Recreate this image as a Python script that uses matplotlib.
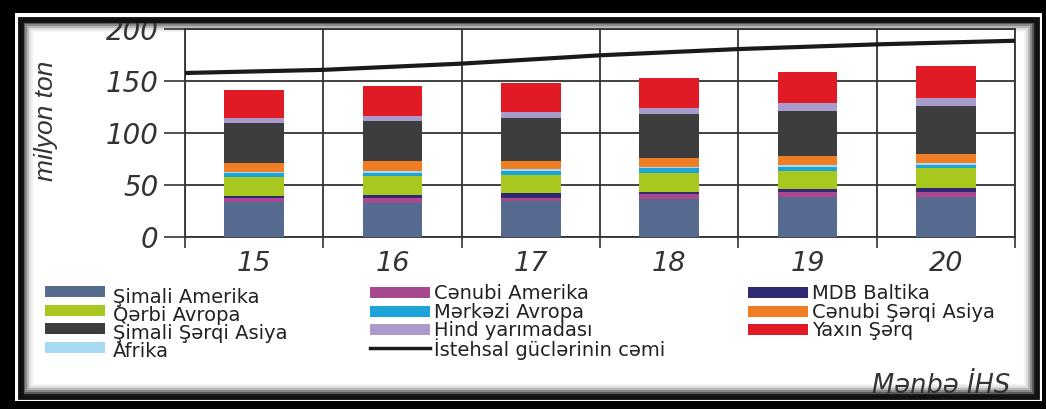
import numpy as np
import matplotlib
matplotlib.use("Agg")
import matplotlib.pyplot as plt
from matplotlib.patches import Rectangle
from matplotlib.lines import Line2D

# ---------------- data ----------------
years = ['15', '16', '17', '18', '19', '20']
simali_amerika = [34.2, 33.3, 35.2, 36.5, 38.5, 39.0]
cenubi_amerika = [3.3, 4.2, 2.9, 4.8, 4.8, 4.8]
mdb_baltika = [2.5, 3.2, 4.2, 2.5, 2.9, 3.9]
qerbi_avropa = [18.3, 18.3, 17.6, 18.3, 17.6, 18.6]
merkezi_avropa = [3.2, 3.0, 3.9, 4.2, 4.1, 3.2]
afrika = [1.3, 1.5, 1.6, 1.0, 1.6, 1.5]
cenubi_serqi_asiya = [9.0, 9.5, 8.3, 8.7, 8.7, 9.3]
simali_serqi_asiya = [38.0, 38.6, 40.7, 42.3, 43.5, 46.2]
hind_yarimadasi = [4.8, 5.2, 5.8, 6.3, 7.1, 7.0]
yaxin_serq = [26.6, 28.5, 28.5, 28.9, 30.4, 31.0]
# total production capacity, read at the year boundaries
capacity = [158, 161, 167, 175, 181, 185.5, 189]
yticks = [0, 50, 100, 150, 200]

series = [
    ("Şimali Amerika", simali_amerika, "#566a8f"),
    ("Cənubi Amerika", cenubi_amerika, "#a8488f"),
    ("MDB Baltika", mdb_baltika, "#2f2a73"),
    ("Qərbi Avropa", qerbi_avropa, "#a9c81f"),
    ("Mərkəzi Avropa", merkezi_avropa, "#1da4d6"),
    ("Afrika", afrika, "#a7d9f2"),
    ("Cənubi Şərqi Asiya", cenubi_serqi_asiya, "#ee7d23"),
    ("Şimali Şərqi Asiya", simali_serqi_asiya, "#3d3d3d"),
    ("Hind yarımadası", hind_yarimadasi, "#a99ccd"),
    ("Yaxın Şərq", yaxin_serq, "#e11b25"),
]
colors = {name: c for name, _, c in series}

W, H = 1046, 409
FONT = "DejaVu Sans"
FONT2 = "Liberation Sans"
TXT = "#333333"

fig = plt.figure(figsize=(W / 100, H / 100), dpi=100)
fig.patch.set_facecolor("black")

def fx(x):
    return x / W

def fy(y):
    return 1 - y / H

def frect(x0, y0, x1, y1, **kw):
    r = Rectangle((fx(x0), fy(y1)), (x1 - x0) / W, (y1 - y0) / H,
                  transform=fig.transFigure, **kw)
    fig.patches.append(r)
    return r

# white page with frame
frect(15, 13, 1042, 401, facecolor="white", edgecolor="none", zorder=-10)
for i, c in enumerate(["#555555", "#888888", "#b5b5b5", "#dcdcdc", "#f0f0f0"]):
    d = 3.5 + i * 2.0
    frect(20.5 + d, 19.5 + d, 1036.5 - d, 396.5 - d,
          facecolor="none", edgecolor=c, linewidth=1.6, zorder=-5)
frect(20.5, 19.5, 1036.5, 396.5, facecolor="none", edgecolor="#111111",
      linewidth=4.2, zorder=10)

# ---------------- axes ----------------
ax = fig.add_axes([fx(185), fy(237.3), (1015 - 185) / W, (237.3 - 29.3) / H])
ax.set_facecolor("white")
x = np.arange(len(years))
bottom = np.zeros(len(years))
for name, vals, c in series:
    ax.bar(x, vals, width=0.43, bottom=bottom, color=c, edgecolor="none", zorder=3)
    bottom += np.array(vals)

xb = np.arange(len(capacity)) - 0.5
ax.plot(xb, capacity, color="#1a1a1a", linewidth=3.0, solid_capstyle="butt", zorder=4)

ax.set_xlim(-0.5, len(years) - 0.5)
ax.set_ylim(0, 200)
ax.set_yticks(yticks)
ax.set_yticklabels([str(v) for v in yticks], fontsize=20, style="italic",
                   family=FONT, color=TXT)
ax.set_xticks(xb)
ax.set_xticklabels([])
ax.set_xticks(x, minor=True)
ax.set_xticklabels(years, minor=True, fontsize=19.5, style="italic",
                   family=FONT, color=TXT)
ax.tick_params(axis="y", length=15, width=1.2, color="#333333", pad=4)
ax.tick_params(axis="x", which="major", length=8, width=1.2, color="#333333")
ax.tick_params(axis="x", which="minor", length=0, pad=10)
ax.grid(True, which="major", color="#333333", linewidth=1.3, zorder=1)
ax.set_axisbelow(True)
for s in ["top", "right", "left", "bottom"]:
    ax.spines[s].set_color("#333333")
    ax.spines[s].set_linewidth(1.3)
ax.set_ylabel("milyon ton", fontsize=19, style="italic", family=FONT2, color=TXT)
ax.yaxis.set_label_coords(-(185 - 58) / (1015 - 185), 0.56)

# ---------------- legend (manual, 3 columns) ----------------
legend_cols = [
    (45, 113, ["Şimali Amerika", "Qərbi Avropa", "Şimali Şərqi Asiya", "Afrika"],
     [291.5, 310, 328.5, 347], [303, 321, 339, 357]),
    (370, 434, ["Cənubi Amerika", "Mərkəzi Avropa", "Hind yarımadası",
                "İstehsal güclərinin cəmi"],
     [292, 311, 329.5, 348], [299, 318, 336, 356]),
    (748, 812, ["MDB Baltika", "Cənubi Şərqi Asiya", "Yaxın Şərq"],
     [292, 311, 329.5], [299, 318, 336]),
]
for px, tx, names, pys, bys in legend_cols:
    for name, py, by in zip(names, pys, bys):
        if name in colors:
            frect(px, py - 5.5, px + 60, py + 5.5, facecolor=colors[name],
                  edgecolor="none", zorder=2)
        else:
            fig.lines.append(Line2D([fx(px), fx(px + 60)], [fy(py), fy(py)],
                                    transform=fig.transFigure, color="#1a1a1a",
                                    linewidth=2.5))
        fig.text(fx(tx), fy(by), name, fontsize=14, family=FONT, color="#222222",
                 ha="left", va="baseline")

fig.text(fx(1010), fy(393), "Mənbə İHS", fontsize=18.5, style="italic", family=FONT,
         color=TXT, ha="right", va="baseline")

fig.savefig("out.png", dpi=100, facecolor=fig.get_facecolor())
